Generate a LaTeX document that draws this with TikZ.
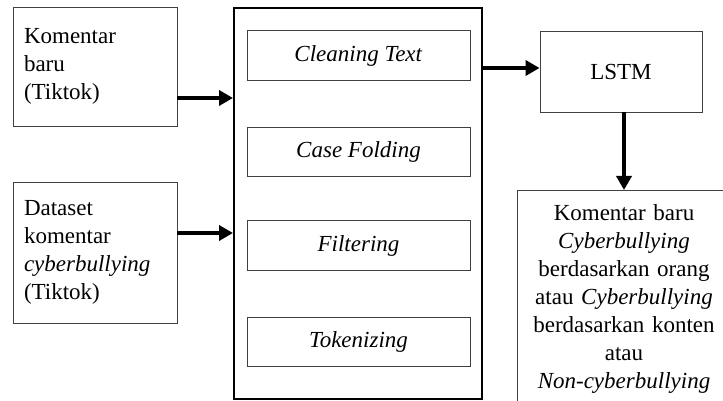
\documentclass[tikz,border=0pt]{standalone}
\usepackage{fontspec}
\setmainfont{Liberation Serif}
\usetikzlibrary{arrows.meta}

\tikzset{
  box/.style={draw=black!75, line width=0.9pt, rectangle, inner sep=0pt,
              font=\fontsize{23}{28}\selectfont},
  stage/.style={box, minimum width=223pt, minimum height=49.5pt},
  frame/.style={draw=black, line width=2pt, rectangle, inner sep=0pt},
  flow/.style={line width=3.8pt, -{Triangle[length=14pt,width=15pt]}},
}

\begin{document}
\begin{tikzpicture}[x=1pt, y=-1pt]
  \useasboundingbox (0,0) rectangle (723,401);
  \clip (0,0) rectangle (723,401);
  \fill[white] (0,0) rectangle (723,401);

  % input sources
  \node[box, minimum width=164pt, minimum height=119pt, text width=142pt, align=left]
    (baru) at (95,66.5) {Komentar\\baru\\(Tiktok)};
  \node[box, minimum width=164pt, minimum height=141pt, text width=142pt, align=left]
    (data) at (95,252.5) {Dataset\\komentar\\\textit{cyberbullying}\\(Tiktok)};

  % preprocessing block with its four stages
  \node[frame, minimum width=248pt, minimum height=391pt] (pre) at (358,203.5) {};
  \node[stage] (clean) at (358.5,55.5)  {\textit{Cleaning Text}};
  \node[stage] (fold)  at (358.5,152)   {\textit{Case Folding}};
  \node[stage] (filt)  at (358.5,245.5) {\textit{Filtering}};
  \node[stage] (tok)   at (358.5,342)   {\textit{Tokenizing}};

  % classifier
  \node[box, minimum width=162pt, minimum height=81pt] (lstm) at (621,71.5) {LSTM};

  % classification result; its frame runs on past the page edge
  \node[box, draw=none, anchor=north, minimum width=212pt,
        text width=205pt, align=center, inner ysep=14pt]
    (hasil) at (624,190) {Komentar baru\\\textit{Cyberbullying}\\berdasarkan orang\\
      atau \textit{Cyberbullying}\\berdasarkan konten\\atau\\\textit{Non-cyberbullying}};
  \draw[draw=black!75, line width=0.9pt]
    (hasil.north west) rectangle ([yshift=-40pt]hasil.south east);

  % connectors
  \coordinate (a1) at ([yshift=-31.5pt]baru.east);
  \coordinate (a2) at ([yshift=19.5pt]data.east);
  \coordinate (a3) at ([yshift=135.5pt]pre.east);
  \coordinate (a4) at ([xshift=3pt]lstm.south);
  \draw[flow] (a1) -- (a1 -| pre.west);
  \draw[flow] (a2) -- (a2 -| pre.west);
  \draw[flow] (a3) -- (a3 -| lstm.west);
  \draw[flow] (a4) -- (a4 |- hasil.north);
\end{tikzpicture}
\end{document}
